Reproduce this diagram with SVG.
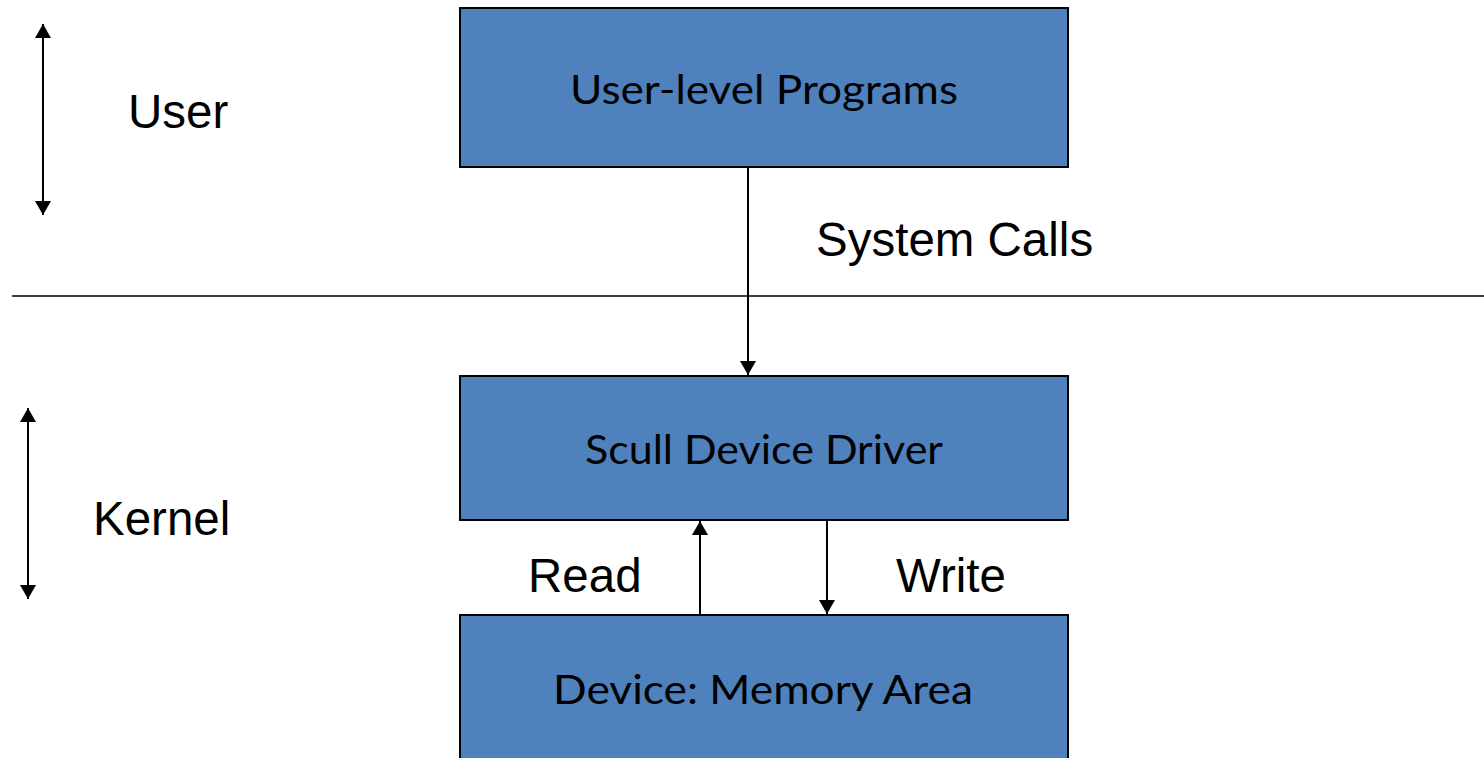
<svg xmlns="http://www.w3.org/2000/svg" width="1484" height="758" viewBox="0 0 1484 758">
  <style>
    .box { fill: #4F81BD; stroke: #000; stroke-width: 2; }
    .boxText { font-family: Lato, "Noto Sans", sans-serif; font-size: 41px; fill: #000; text-anchor: middle; }
    .label { font-family: "Liberation Sans", Arial, sans-serif; font-size: 47.5px; fill: #000; }
    .conn { stroke: #000; stroke-width: 2; fill: none; }
  </style>
  <defs>
    <marker id="head" viewBox="0 0 14 16" refX="14" refY="8" markerWidth="14" markerHeight="16" markerUnits="userSpaceOnUse" orient="auto">
      <path d="M0,0 L14,8 L0,16 Z" fill="#000"/>
    </marker>
    <marker id="tail" viewBox="0 0 14 16" refX="0" refY="8" markerWidth="14" markerHeight="16" markerUnits="userSpaceOnUse" orient="auto">
      <path d="M14,0 L0,8 L14,16 Z" fill="#000"/>
    </marker>
  </defs>

  <!-- user / kernel boundary -->
  <line x1="12" y1="296" x2="1484" y2="296" stroke="#000" stroke-width="1.5"/>

  <!-- side range indicators -->
  <g id="user-range">
    <line class="conn" x1="43" y1="24" x2="43" y2="215" marker-start="url(#tail)" marker-end="url(#head)"/>
    <text class="label" x="128" y="128">User</text>
  </g>
  <g id="kernel-range">
    <line class="conn" x1="28" y1="408" x2="28" y2="599" marker-start="url(#tail)" marker-end="url(#head)"/>
    <text class="label" x="93" y="535">Kernel</text>
  </g>

  <!-- nodes -->
  <g id="user-programs">
    <rect class="box" x="460" y="8" width="608" height="159"/>
    <text class="boxText" x="764" y="104" textLength="388" lengthAdjust="spacingAndGlyphs">User-level Programs</text>
  </g>
  <g id="scull-driver">
    <rect class="box" x="460" y="376" width="608" height="144"/>
    <text class="boxText" x="764" y="464" textLength="358" lengthAdjust="spacingAndGlyphs">Scull Device Driver</text>
  </g>
  <g id="memory-area">
    <rect class="box" x="460" y="615" width="608" height="150"/>
    <text class="boxText" x="763" y="704" textLength="420" lengthAdjust="spacingAndGlyphs">Device: Memory Area</text>
  </g>

  <!-- connectors -->
  <g id="connectors">
    <line class="conn" x1="748" y1="167" x2="748" y2="375" marker-end="url(#head)"/>
    <text class="label" x="816" y="256">System Calls</text>
    <line class="conn" x1="700" y1="615" x2="700" y2="521" marker-end="url(#head)"/>
    <text class="label" x="528" y="592">Read</text>
    <line class="conn" x1="827" y1="521" x2="827" y2="614" marker-end="url(#head)"/>
    <text class="label" x="896" y="592">Write</text>
  </g>
</svg>
